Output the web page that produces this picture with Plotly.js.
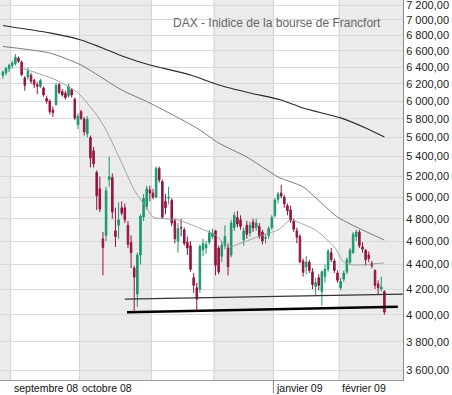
<!DOCTYPE html>
<html>
<head>
<meta charset="utf-8">
<script src="https://cdn.plot.ly/plotly-3.0.1.min.js"></script>
<style>html,body{margin:0;padding:0;background:#fff}#chart{width:452px;height:395px}</style>
</head>
<body>
<div id="chart"></div>
<script>
// Trading days (Xetra)
const dates = [
 '2008-08-27','2008-08-28','2008-08-29',
 '2008-09-01','2008-09-02','2008-09-03','2008-09-04','2008-09-05','2008-09-08','2008-09-09','2008-09-10','2008-09-11','2008-09-12',
 '2008-09-15','2008-09-16','2008-09-17','2008-09-18','2008-09-19','2008-09-22','2008-09-23','2008-09-24','2008-09-25','2008-09-26','2008-09-29','2008-09-30',
 '2008-10-01','2008-10-02','2008-10-03','2008-10-06','2008-10-07','2008-10-08','2008-10-09','2008-10-10','2008-10-13','2008-10-14','2008-10-15','2008-10-16','2008-10-17',
 '2008-10-20','2008-10-21','2008-10-22','2008-10-23','2008-10-24','2008-10-27','2008-10-28','2008-10-29','2008-10-30','2008-10-31',
 '2008-11-03','2008-11-04','2008-11-05','2008-11-06','2008-11-07','2008-11-10','2008-11-11','2008-11-12','2008-11-13','2008-11-14',
 '2008-11-17','2008-11-18','2008-11-19','2008-11-20','2008-11-21','2008-11-24','2008-11-25','2008-11-26','2008-11-27','2008-11-28',
 '2008-12-01','2008-12-02','2008-12-03','2008-12-04','2008-12-05','2008-12-08','2008-12-09','2008-12-10','2008-12-11','2008-12-12',
 '2008-12-15','2008-12-16','2008-12-17','2008-12-18','2008-12-19','2008-12-22','2008-12-23','2008-12-29','2008-12-30',
 '2009-01-02','2009-01-05','2009-01-06','2009-01-07','2009-01-08','2009-01-09','2009-01-12','2009-01-13','2009-01-14','2009-01-15','2009-01-16',
 '2009-01-19','2009-01-20','2009-01-21','2009-01-22','2009-01-23','2009-01-26','2009-01-27','2009-01-28','2009-01-29','2009-01-30',
 '2009-02-02','2009-02-03','2009-02-04','2009-02-05','2009-02-06','2009-02-09','2009-02-10','2009-02-11','2009-02-12','2009-02-13',
 '2009-02-16','2009-02-17','2009-02-18','2009-02-19','2009-02-20'
];
const open = [6300,6330,6380, 6420,6440,6510,6460,6270,6280,6300,6240,6190,6170, 6150,6030,6000,5900,5960,6190,6110,6090,6060,6130,6020,5740,
 5880,5800,5640,5600,5460,5240,5080,4620,4650,5170,5190,4690,4740, 4900,4900,4740,4590,4370,4160,4480,4815,4910,5070,
 5040,5000,5280,5150,4960,4990,4970,4780,4600,4720, 4700,4590,4560,4290,4210,4200,4525,4540,4590,4640,
 4690,4540,4470,4560,4540,4480,4720,4810,4790,4610, 4740,4670,4770,4720,4730,4680,4625,4650,4720,
 4830,4980,5040,5000,4920,4880,4780,4690,4640,4430,4380, 4420,4340,4220,4290,4180,4300,4360,4500,4430,4330,
 4210,4280,4340,4420,4500,4640,4680,4550,4520,4480, 4410,4350,4240,4200,4180];
const high = [6360,6400,6440, 6480,6560,6530,6480,6290,6390,6330,6260,6220,6260, 6170,6060,6020,5940,6210,6210,6140,6120,6200,6150,6040,5860,
 5900,5820,5830,5620,5500,5260,5200,4680,5100,5400,5230,4900,4950, 4960,4940,4780,4650,4390,4500,4840,5030,5110,5110,
 5080,5300,5300,5170,5030,5100,4990,4800,4760,4800, 4720,4640,4600,4330,4250,4570,4620,4600,4700,4710,
 4700,4560,4600,4740,4580,4790,4860,4870,4830,4720, 4780,4770,4800,4800,4760,4700,4660,4730,4830,
 4990,5050,5120,5020,4940,4920,4800,4720,4660,4450,4470, 4440,4370,4290,4320,4350,4400,4530,4540,4450,4350,
 4290,4350,4460,4540,4680,4700,4700,4590,4530,4510, 4430,4360,4270,4300,4190];
const low = [6260,6300,6340, 6380,6420,6450,6290,6120,6250,6200,6150,6080,6150, 6050,5970,5850,5820,5950,6080,6050,6020,6040,6040,5790,5690,
 5790,5620,5600,5290,5290,4880,4860,4310,4600,5100,4800,4550,4620, 4830,4760,4540,4370,4014,4060,4400,4780,4880,4960,
 4980,4990,5140,4800,4840,4930,4730,4580,4500,4640, 4560,4480,4340,4170,4030,4170,4470,4490,4570,4620,
 4310,4320,4420,4530,4310,4460,4690,4720,4700,4560, 4620,4640,4680,4690,4620,4570,4580,4620,4700,
 4810,4940,4990,4900,4830,4760,4680,4580,4410,4300,4320, 4330,4200,4150,4190,4070,4250,4340,4420,4330,4250,
 4190,4260,4320,4400,4490,4600,4540,4500,4390,4420, 4370,4200,4160,4180,4000];
const close = [6340,6385,6422, 6450,6520,6470,6310,6180,6350,6230,6190,6170,6240, 6070,6000,5880,5870,6180,6100,6070,6040,6170,6070,5810,5831,
 5806,5660,5797,5387,5326,5013,4890,4544,5062,5199,4861,4640,4790, 4850,4790,4571,4500,4295,4480,4823,4990,5080,5040,
 5000,5278,5165,4813,4900,5000,4760,4620,4710,4715, 4580,4540,4360,4230,4120,4554,4580,4570,4670,4669,
 4394,4340,4566,4640,4381,4760,4830,4750,4730,4690, 4660,4740,4716,4760,4640,4600,4629,4710,4810,
 4973,5030,5010,4937,4872,4783,4705,4634,4422,4336,4420, 4350,4236,4250,4230,4340,4360,4513,4440,4350,4270,
 4260,4330,4440,4520,4660,4680,4560,4530,4440,4450, 4390,4230,4210,4215,4020];

// Moving averages (date, value)
const maLongDates = ['2008-08-27','2008-09-17','2008-10-01','2008-10-09','2008-10-21','2008-10-31','2008-11-19','2008-12-02','2008-12-16','2009-01-06','2009-01-15','2009-02-02','2009-02-12','2009-02-20'];
const maLongValues = [6925,6828,6737,6649,6523,6425,6304,6186,6093,6012,5922,5811,5701,5604];
const maMidDates = ['2008-08-27','2008-09-17','2008-10-01','2008-10-20','2008-10-31','2008-11-21','2008-12-02','2008-12-15','2009-01-05','2009-01-15','2009-01-30','2009-02-20'];
const maMidValues = [6655,6573,6425,6127,5978,5701,5541,5396,5195,5098,4815,4609];
const maShortDates = ['2008-09-04','2008-09-19','2008-09-30','2008-10-08','2008-10-13','2008-10-20','2008-10-24','2008-10-30','2008-11-03','2008-11-13','2008-11-21','2008-12-01','2008-12-05','2008-12-12','2008-12-22','2009-01-05','2009-01-09','2009-01-14','2009-01-21','2009-01-29','2009-02-03','2009-02-06','2009-02-20'];
const maShortValues = [6389,6245,6093,5844,5680,5335,5069,4898,4815,4788,4725,4653,4549,4592,4653,4698,4788,4761,4698,4549,4421,4396,4413];

// Support lines (trading-day offset from first date, level)
const supportThinDays = [39, 127.9];
const supportThinLevels = [4121, 4160];
const supportThickDays = [39.7, 126.3];
const supportThickLevels = [4019, 4061];

const yTickValues = [3600,3800,4000,4200,4400,4600,4800,5000,5200,5400,5600,5800,6000,6200,6400,6600,6800,7000,7200];
const monthLabels = {'2008-09':'septembre 08','2008-10':'octobre 08','2009-01':'janvier 09','2009-02':'février 09'};
const titleText = 'DAX - Inidice de la bourse de Francfort';

const idx = dates.map((d,i)=>i);
const pos = d => dates.indexOf(d);
const fmt = v => Math.floor(v/1000) + ' ' + String(v%1000).padStart(3,'0') + ',00';

const X0 = -0.92, X1 = 127.95;
const G = '#1a9866', R = '#951443';
const FONT = 'Liberation Sans, Arial, sans-serif';

const traces = [
 {type:'candlestick', x:idx, open:open, high:high, low:low, close:close,
  increasing:{line:{color:G,width:1}, fillcolor:G},
  decreasing:{line:{color:R,width:1}, fillcolor:R},
  whiskerwidth:0, hoverinfo:'skip', showlegend:false},
 {type:'scatter', mode:'lines', x:maLongDates.map(pos), y:maLongValues, line:{color:'#2b2b2b',width:1.2,shape:'spline',smoothing:0.6}, hoverinfo:'skip'},
 {type:'scatter', mode:'lines', x:maMidDates.map(pos), y:maMidValues, line:{color:'#7a7a7a',width:1,shape:'spline',smoothing:0.6}, hoverinfo:'skip'},
 {type:'scatter', mode:'lines', x:maShortDates.map(pos), y:maShortValues, line:{color:'#9a9a9a',width:0.9,shape:'spline',smoothing:0.6}, hoverinfo:'skip'},
 {type:'scatter', mode:'lines', x:supportThinDays, y:supportThinLevels, line:{color:'#333',width:1.3}, hoverinfo:'skip'},
 {type:'scatter', mode:'lines', x:supportThickDays, y:supportThickLevels, line:{color:'#000',width:2.6}, hoverinfo:'skip'}
];

// month boundaries from the dates
const months = [];
dates.forEach((d,i)=>{ const m=d.slice(0,7); if(!months.length || months[months.length-1].m!==m) months.push({m:m, start:i}); });
const shapes = [];
const annotations = [];
months.forEach((mo,k)=>{
  const b0 = k===0 ? X0 : mo.start - 0.5;
  const b1 = k===months.length-1 ? X1 : months[k+1].start - 0.5;
  if(k%2===0) shapes.push({type:'rect', xref:'x', yref:'paper', x0:b0, x1:b1, y0:0, y1:1, fillcolor:'#ebebeb', line:{width:0}, layer:'below'});
  if(k>0) shapes.push({type:'line', xref:'x', yref:'paper', x0:b0, x1:b0, y0:0, y1:1, line:{color:'#d2d2d2', width:1}, layer:'below'});
  if(k>0 && mo.m.slice(0,4)!==months[k-1].m.slice(0,4)) shapes.push({type:'line', xref:'x', yref:'paper', x0:b0, x1:b0, y0:0, y1:-0.035, line:{color:'#888', width:1}});
  if(monthLabels[mo.m]) annotations.push({xref:'x', yref:'paper', x:b0, y:-0.021, xanchor:'left', yanchor:'middle', xshift:1, showarrow:false, text:monthLabels[mo.m], font:{family:FONT, size:10.5, color:'#111'}});
});
annotations.push({xref:'paper', yref:'paper', x:170.7/403, y:1-22.7/380, xanchor:'left', yanchor:'middle', showarrow:false, text:titleText, font:{family:FONT, size:12, color:'#666'}});

const layout = {
  width:452, height:395,
  margin:{l:0, r:49, t:0, b:15, pad:0},
  paper_bgcolor:'#fff', plot_bgcolor:'#fff',
  showlegend:false,
  xaxis:{type:'linear', range:[X0,X1], showgrid:false, zeroline:false, showticklabels:false, ticks:'', showline:true, linecolor:'#9a9a9a', linewidth:1, rangeslider:{visible:false}, fixedrange:true},
  yaxis:{type:'log', side:'right', range:[Math.log10(3534), Math.log10(7268.6)], tickmode:'array', tickvals:yTickValues, ticktext:yTickValues.map(fmt),
         showgrid:true, gridcolor:'#d9d9d9', gridwidth:1, zeroline:false, showline:true, linecolor:'#8a8a8a', linewidth:1, ticks:'',
         ticklabeloverflow:'allow', tickfont:{family:FONT, size:11, color:'#222'}, fixedrange:true},
  shapes:shapes,
  annotations:annotations,
  font:{family:FONT}
};
Plotly.newPlot('chart', traces, layout, {staticPlot:true, displayModeBar:false});
</script>
</body>
</html>
